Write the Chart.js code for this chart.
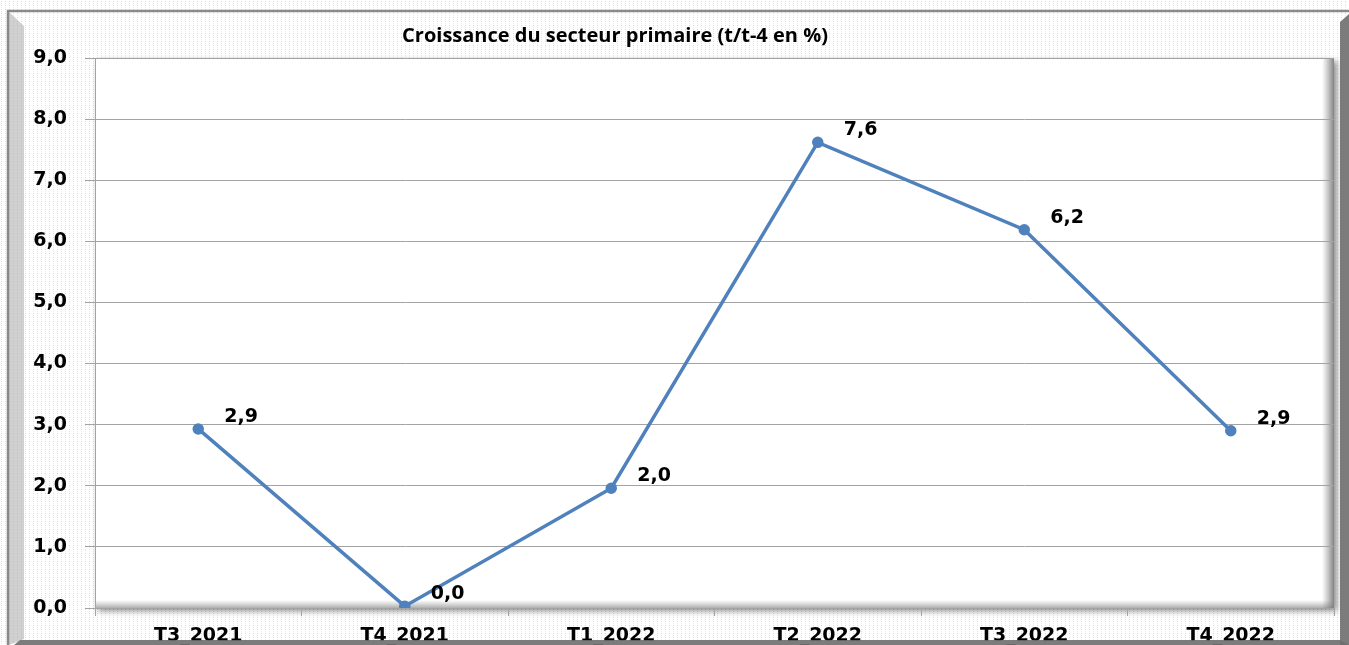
<!DOCTYPE html>
<html>
<head>
<meta charset="utf-8">
<title>Croissance du secteur primaire</title>
<script src="https://cdn.jsdelivr.net/npm/chart.js@4.4.1/dist/chart.umd.min.js"></script>
<style>
  html, body { margin: 0; padding: 0; background: #fff; }
  #wrap { width: 1349px; height: 645px; position: relative; }
</style>
</head>
<body>
<div id="wrap"><canvas id="chart"></canvas></div>
<script>
const categories = ["T3_2021", "T4_2021", "T1_2022", "T2_2022", "T3_2022", "T4_2022"];
const growth = [2.93, 0.03, 1.96, 7.62, 6.19, 2.90];
const yTicks = [0, 1, 2, 3, 4, 5, 6, 7, 8, 9];
const chartTitle = "Croissance du secteur primaire (t/t-4 en %)";

const lineColor = "#4f81bd";
const gridColor = "#a3a3a3";
const fmt = (v) => v.toFixed(1).replace(".", ",");

// dotted light blue background like the excel chart area
function makePattern(ctx) {
  const p = document.createElement("canvas");
  p.width = 4;
  p.height = 4;
  const pc = p.getContext("2d");
  pc.fillStyle = "#ffffff";
  pc.fillRect(0, 0, 4, 4);
  pc.fillStyle = "#cddcf1";
  pc.fillRect(1, 1, 1, 1);
  pc.fillStyle = "#e6eef8";
  pc.fillRect(1, 3, 1, 1);
  return ctx.createPattern(p, "repeat");
}

const framePlugin = {
  id: "frame",
  beforeDraw(chart) {
    const { ctx, width, height, chartArea: a } = chart;
    ctx.save();
    ctx.fillStyle = makePattern(ctx);
    ctx.fillRect(0, 0, width, height);

    // plot area with shadow
    ctx.shadowColor = "rgba(0,0,0,0.45)";
    ctx.shadowBlur = 6;
    ctx.shadowOffsetX = 3;
    ctx.shadowOffsetY = 3;
    ctx.fillStyle = "#ffffff";
    ctx.fillRect(a.left, a.top, a.right - a.left, a.bottom - a.top);
    ctx.shadowColor = "transparent";

    // inner bevel on right and bottom
    let g = ctx.createLinearGradient(a.right - 12, 0, a.right, 0);
    g.addColorStop(0, "rgba(120,120,120,0)");
    g.addColorStop(1, "rgba(90,90,90,0.75)");
    ctx.fillStyle = g;
    ctx.fillRect(a.right - 12, a.top, 12, a.bottom - a.top);
    g = ctx.createLinearGradient(0, a.bottom - 8, 0, a.bottom);
    g.addColorStop(0, "rgba(140,140,140,0)");
    g.addColorStop(1, "rgba(120,120,120,0.6)");
    ctx.fillStyle = g;
    ctx.fillRect(a.left, a.bottom - 8, a.right - a.left, 8);
    ctx.restore();
  },
  afterDraw(chart) {
    const { ctx, width, height } = chart;
    ctx.save();
    // left bevel
    ctx.fillStyle = "rgba(170,170,170,0.55)";
    ctx.beginPath();
    ctx.moveTo(9, 12);
    ctx.lineTo(24, 26);
    ctx.lineTo(24, height - 6);
    ctx.lineTo(9, height);
    ctx.closePath();
    ctx.fill();
    // right dark side
    ctx.fillStyle = "rgba(110,110,110,0.9)";
    ctx.beginPath();
    ctx.moveTo(width - 9, 22);
    ctx.lineTo(width, 14);
    ctx.lineTo(width, height);
    ctx.lineTo(width - 9, height);
    ctx.closePath();
    ctx.fill();
    // bottom dark side
    ctx.beginPath();
    ctx.moveTo(20, height - 5);
    ctx.lineTo(width - 9, height - 5);
    ctx.lineTo(width, height);
    ctx.lineTo(14, height);
    ctx.closePath();
    ctx.fill();
    // outer border
    ctx.strokeStyle = "#8a8a8a";
    ctx.lineWidth = 2.5;
    ctx.beginPath();
    ctx.moveTo(8, height);
    ctx.lineTo(8, 11);
    ctx.lineTo(width, 11);
    ctx.stroke();

    // title
    ctx.fillStyle = "#000";
    ctx.font = "bold 20px 'Open Sans', 'Liberation Sans', sans-serif";
    ctx.textAlign = "center";
    ctx.textBaseline = "middle";
    ctx.fillText(chartTitle, 615, 36);
    ctx.restore();
  },
};

const valueLabels = {
  id: "valueLabels",
  afterDatasetsDraw(chart) {
    const { ctx } = chart;
    const meta = chart.getDatasetMeta(0);
    ctx.save();
    ctx.fillStyle = "#000";
    ctx.font = "bold 19px 'DejaVu Sans', sans-serif";
    ctx.textAlign = "left";
    ctx.textBaseline = "middle";
    meta.data.forEach((pt, i) => {
      ctx.fillText(fmt(growth[i]), pt.x + 26, pt.y - 12);
    });
    ctx.restore();
  },
};

new Chart(document.getElementById("chart"), {
  type: "line",
  data: {
    labels: categories,
    datasets: [
      {
        label: "Croissance",
        data: growth,
        borderColor: lineColor,
        backgroundColor: lineColor,
        borderWidth: 3.5,
        pointRadius: 4,
        pointHoverRadius: 4,
        tension: 0,
      },
    ],
  },
  options: {
    responsive: true,
    maintainAspectRatio: false,
    animation: false,
    layout: { padding: { top: 58, right: 15, left: 0, bottom: 0 } },
    scales: {
      y: {
        min: 0,
        max: 9,
        afterFit: (s) => { s.width = 95; },
        afterBuildTicks: (s) => { s.ticks = yTicks.map((v) => ({ value: v })); },
        ticks: {
          padding: 18,
          color: "#000",
          font: { family: "'DejaVu Sans', sans-serif", size: 19, weight: "bold" },
          callback: (v) => fmt(v),
        },
        grid: { color: gridColor, tickLength: 10, tickColor: gridColor, lineWidth: 1 },
        border: { display: true, color: gridColor },
      },
      x: {
        offset: true,
        afterFit: (s) => { s.height = 37; },
        ticks: {
          padding: 9,
          color: "#000",
          maxRotation: 0,
          font: { family: "'DejaVu Sans', sans-serif", size: 19, weight: "bold" },
        },
        grid: { offset: true, drawOnChartArea: false, tickLength: 8, tickColor: gridColor },
        border: { display: true, color: gridColor },
      },
    },
    plugins: {
      legend: { display: false },
      tooltip: { enabled: false },
      title: { display: false },
    },
  },
  plugins: [framePlugin, valueLabels],
});
</script>
</body>
</html>
